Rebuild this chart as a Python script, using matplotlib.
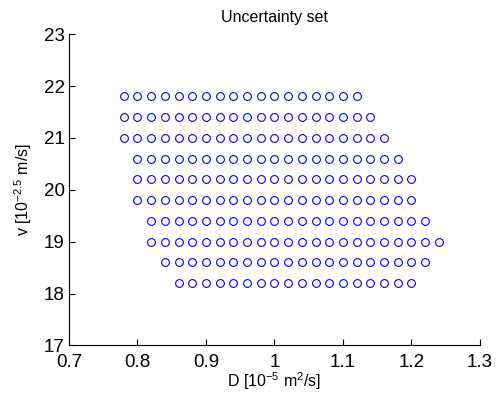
import numpy as np
import matplotlib
matplotlib.use('Agg')
import matplotlib.pyplot as plt

plt.rcParams['font.family'] = ['Liberation Sans', 'DejaVu Sans']
plt.rcParams['mathtext.default'] = 'regular'

# grid columns of D used by the set
d_grid = [0.78, 0.80, 0.82, 0.84, 0.86, 0.88, 0.90, 0.92, 0.94, 0.96, 0.98, 1.00,
          1.02, 1.04, 1.06, 1.08, 1.10, 1.12, 1.14, 1.16, 1.18, 1.20, 1.22, 1.24]
# rows: v value and D range covered in that row
v_rows = [21.8, 21.4, 21.0, 20.6, 20.2, 19.8, 19.4, 19.0, 18.6, 18.2]
d_min = [0.78, 0.78, 0.78, 0.80, 0.80, 0.80, 0.82, 0.82, 0.84, 0.86]
d_max = [1.12, 1.14, 1.16, 1.18, 1.20, 1.20, 1.22, 1.24, 1.22, 1.20]

d_pts = []
v_pts = []
for v, lo, hi in zip(v_rows, d_min, d_max):
    for d in d_grid:
        if lo - 1e-9 <= d <= hi + 1e-9:
            d_pts.append(d)
            v_pts.append(v)

fig = plt.figure(figsize=(5, 4.03), dpi=100)
ax = fig.add_axes([0.138, 0.143, 0.822, 0.772])
ax.plot(d_pts, v_pts, 'o', markersize=5.6, markerfacecolor='none',
        markeredgecolor='#0000ff', markeredgewidth=0.8)

ax.set_xlim(0.7, 1.3)
ax.set_ylim(17, 23)
ax.set_xticks([0.7, 0.8, 0.9, 1.0, 1.1, 1.2, 1.3])
ax.set_xticklabels(['0.7', '0.8', '0.9', '1', '1.1', '1.2', '1.3'])
ax.set_yticks([17, 18, 19, 20, 21, 22, 23])
ax.spines['top'].set_visible(False)
ax.spines['right'].set_visible(False)
ax.tick_params(direction='in', length=4, labelsize=13.5)
ax.tick_params(axis='x', pad=6)
ax.tick_params(axis='y', pad=3)

ax.set_title('Uncertainty set', fontsize=11.5, pad=9)
ax.set_xlabel('D [$10^{-5}$ m$^2$/s]', fontsize=11.5, labelpad=0)
ax.set_ylabel('v [$10^{-2.5}$ m/s]', fontsize=11.5, labelpad=7)

fig.savefig('out.png', dpi=100)
